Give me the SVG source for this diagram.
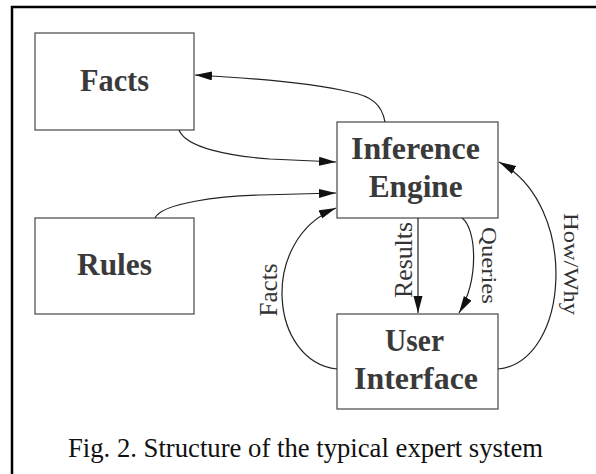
<svg xmlns="http://www.w3.org/2000/svg" width="596" height="474" viewBox="0 0 596 474">
<style>
.box{fill:#fff;stroke:#555;stroke-width:1.3}
.lbl{font-family:"Liberation Serif",serif;font-weight:bold;font-size:31px;fill:#3a3a3a;text-anchor:middle}
.edge{fill:none;stroke:#222;stroke-width:1.2}
.el{font-family:"Liberation Serif",serif;font-size:25px;fill:#333;text-anchor:middle}
.cap{font-family:"Liberation Serif",serif;font-size:26.7px;fill:#111}
</style>
<defs>
<marker id="ah" markerUnits="userSpaceOnUse" markerWidth="18" markerHeight="10" refX="17" refY="4.5" orient="auto">
<path d="M0,0 L17,4.5 L0,9 Z" fill="#111"/>
</marker>
</defs>
<rect width="596" height="474" fill="#fff"/>
<path d="M12,474 L12,7 L596,7" fill="none" stroke="#000" stroke-width="2.5"/>
<g id="facts">
<rect class="box" x="35" y="33" width="159" height="97"/>
<text class="lbl" x="114.5" y="91" textLength="69" lengthAdjust="spacingAndGlyphs">Facts</text>
</g>
<g id="rules">
<rect class="box" x="35" y="218" width="159" height="96"/>
<text class="lbl" x="114.5" y="275" textLength="75" lengthAdjust="spacingAndGlyphs">Rules</text>
</g>
<g id="inference-engine">
<rect class="box" x="337" y="122" width="161" height="96"/>
<text class="lbl" x="415.5" y="158.5" textLength="129" lengthAdjust="spacingAndGlyphs">Inference</text>
<text class="lbl" x="415.7" y="197" textLength="94" lengthAdjust="spacingAndGlyphs">Engine</text>
</g>
<g id="user-interface">
<rect class="box" x="337" y="314" width="161" height="95"/>
<text class="lbl" x="414.5" y="351" textLength="59" lengthAdjust="spacingAndGlyphs">User</text>
<text class="lbl" x="416" y="389" textLength="124" lengthAdjust="spacingAndGlyphs">Interface</text>
</g>
<g id="connectors">
<path class="edge" marker-end="url(#ah)" d="M385,122 C382,105 372,96 350,92 C320,85 270,79 195,75"/>
<path class="edge" marker-end="url(#ah)" d="M179,130 C186,148 230,156 270,159 L336,162"/>
<path class="edge" marker-end="url(#ah)" d="M155,218 C162,203 220,196 260,195 L336,193"/>
<path class="edge" marker-end="url(#ah)" d="M337,369 C270,362 258,240 336,208"/>
<path class="edge" marker-end="url(#ah)" d="M418,218 L418,313"/>
<path class="edge" marker-end="url(#ah)" d="M462,218 C476,228 480,278 459,313"/>
<path class="edge" marker-end="url(#ah)" d="M498,369 C570,362 580,205 499,162"/>
<text class="el" transform="translate(277,290) rotate(-90)" textLength="53" lengthAdjust="spacingAndGlyphs">Facts</text>
<text class="el" transform="translate(411.5,260) rotate(-90)" textLength="76" lengthAdjust="spacingAndGlyphs">Results</text>
<text class="el" style="font-size:22px" transform="translate(482,265.5) rotate(90)" textLength="77" lengthAdjust="spacingAndGlyphs">Queries</text>
<text class="el" style="font-size:21px" transform="translate(564,264) rotate(90)" textLength="102" lengthAdjust="spacingAndGlyphs">How/Why</text>
</g>
<text class="cap" x="68" y="457" textLength="475" lengthAdjust="spacingAndGlyphs">Fig. 2. Structure of the typical expert system</text>
</svg>
